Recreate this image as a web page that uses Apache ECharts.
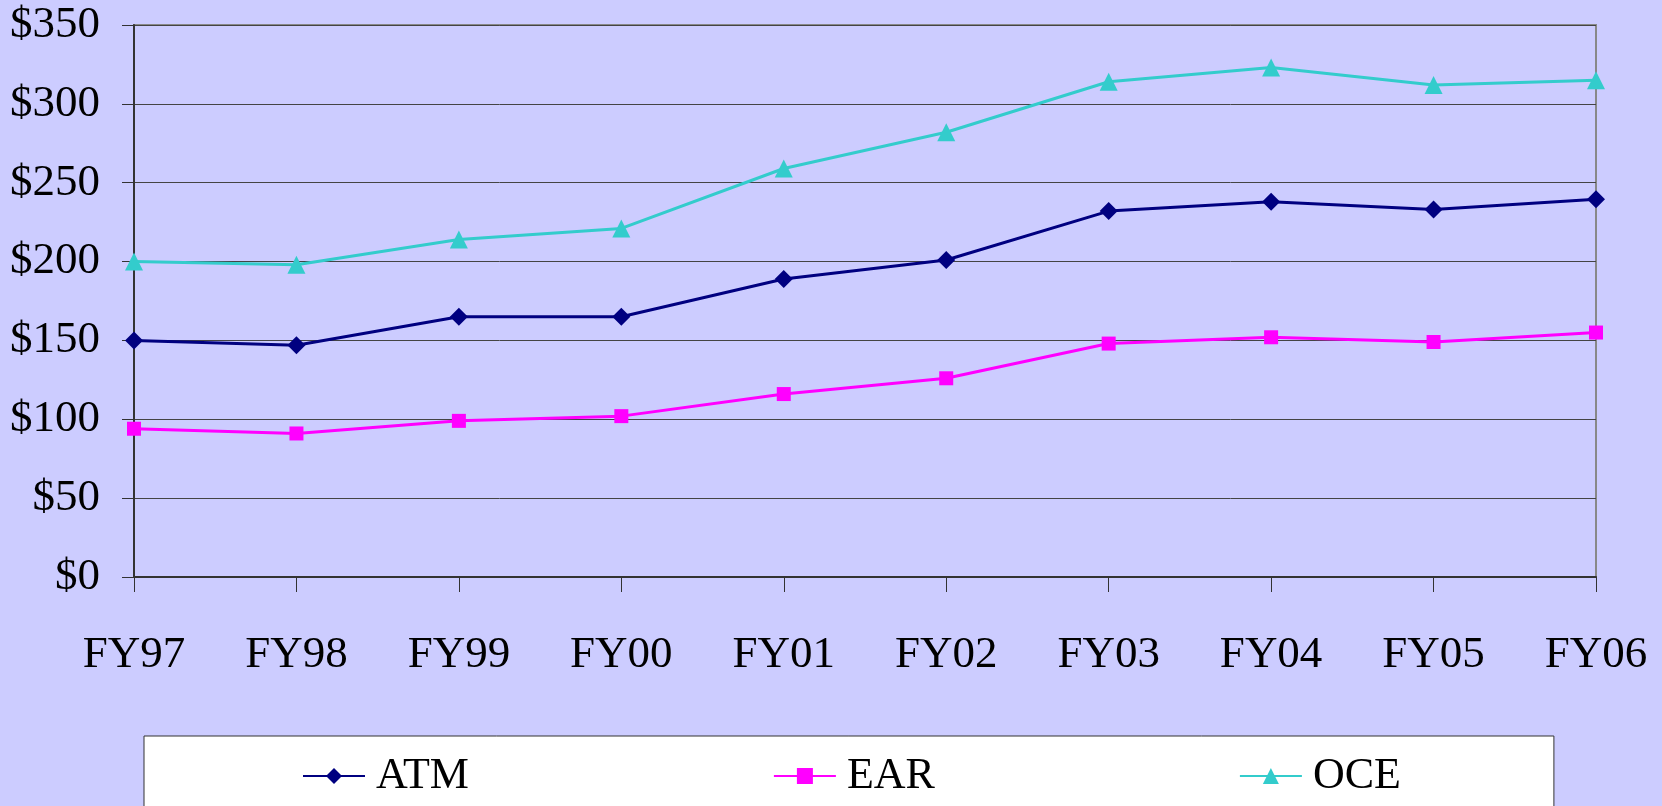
<!DOCTYPE html>
<html>
<head>
<meta charset="utf-8">
<script src="https://cdn.jsdelivr.net/npm/echarts@6/dist/echarts.min.js"></script>
<style>
html,body{margin:0;padding:0;background:#CCCCFF;}
#chart{width:1662px;height:806px;}
</style>
</head>
<body>
<div id="chart"></div>
<script>
const categories = ['FY97','FY98','FY99','FY00','FY01','FY02','FY03','FY04','FY05','FY06'];
const atm = [150, 147, 165, 165, 189, 201, 232, 238, 233, 239.5];
const ear = [94, 91, 99, 102, 116, 126, 148, 152, 149, 155];
const oce = [200, 198, 214, 221, 259, 282, 314, 323, 312, 315];
const yTicks = {min: 0, max: 350, interval: 50};

const font = "'Liberation Serif','Times New Roman',serif";
const chart = echarts.init(document.getElementById('chart'));
chart.setOption({
  backgroundColor: '#CCCCFF',
  animation: false,
  grid: {left: 134, right: 66, top: 25, bottom: 229, show: true, borderColor: '#888888', borderWidth: 2, backgroundColor: 'transparent'},
  xAxis: {
    type: 'category', data: categories, boundaryGap: false,
    axisLine: {show: true, lineStyle: {color: '#333333', width: 2}},
    axisTick: {show: true, length: 15, lineStyle: {color: '#333333', width: 1}},
    axisLabel: {color: '#000', fontFamily: font, fontSize: 45, margin: 56},
    splitLine: {show: false}
  },
  yAxis: {
    type: 'value', min: yTicks.min, max: yTicks.max, interval: yTicks.interval,
    axisLine: {show: true, lineStyle: {color: '#333333', width: 2}},
    axisTick: {show: true, length: 12, lineStyle: {color: '#333333', width: 1}},
    axisLabel: {color: '#000', fontFamily: font, fontSize: 45, margin: 34, formatter: v => '$' + v},
    splitLine: {show: true, lineStyle: {color: '#444444', width: 1}}
  },
  legend: {
    left: 144, top: 736,
    backgroundColor: '#FFFFFF', borderColor: '#333333', borderWidth: 1,
    padding: [18, 153, 40, 158],
    itemGap: 304, itemWidth: 62, itemHeight: 20,
    textStyle: {color: '#000', fontFamily: font, fontSize: 44, padding: [0, 0, 0, 6]},
    data: ['ATM', 'EAR', 'OCE']
  },
  series: [
    {name: 'ATM', type: 'line', data: atm, symbol: 'diamond', symbolSize: 18,
     itemStyle: {color: '#000080'}, lineStyle: {color: '#000080', width: 3}},
    {name: 'EAR', type: 'line', data: ear, symbol: 'rect', symbolSize: 14,
     itemStyle: {color: '#FF00FF'}, lineStyle: {color: '#FF00FF', width: 3}},
    {name: 'OCE', type: 'line', data: oce, symbol: 'triangle', symbolSize: 18,
     itemStyle: {color: '#33CCCC'}, lineStyle: {color: '#33CCCC', width: 3}}
  ]
});
</script>
</body>
</html>
